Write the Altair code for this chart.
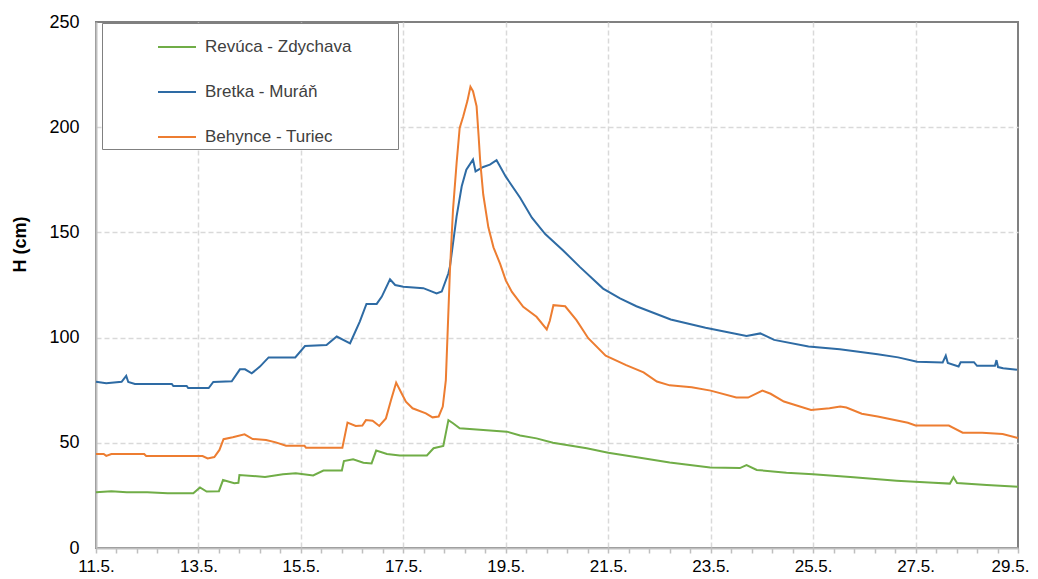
import altair as alt
import pandas as pd

# ---- data (day of May, water level in cm) ----
names = ["Revúca - Zdychava", "Bretka - Muráň", "Behynce - Turiec"]
colors = ["#70AD47", "#2E6BA4", "#ED7D31"]

green_x = [11.0, 11.3, 11.6, 12.0, 12.4, 12.9, 13.03, 13.16, 13.4, 13.48, 13.7, 13.78, 13.8, 14.3, 14.65,
           14.9, 15.24, 15.44, 15.8, 15.84, 16.02, 16.22, 16.38, 16.47, 16.68, 16.93, 17.46, 17.59, 17.78,
           17.88, 17.97, 18.1, 18.56, 19.02, 19.28, 19.6, 19.92, 20.58, 21.0, 21.56, 22.2, 22.99, 23.57,
           23.7, 23.9, 24.48, 25.0, 25.79, 26.63, 27.35, 27.67, 27.74, 27.81, 28.39, 29.0]
green_y = [26.5, 27, 26.5, 26.5, 26, 26, 28.8, 26.8, 27, 32.3, 30.8, 31, 34.7, 33.8, 35,
           35.5, 34.5, 36.8, 36.8, 41.3, 42.2, 40.5, 40.2, 46.3, 44.7, 44, 44, 47.4, 48.5,
           60.8, 59.3, 56.9, 56.1, 55.3, 53.5, 52.1, 50, 47.4, 45.3, 43.1, 40.6, 38.3, 38,
           39.4, 37.1, 35.8, 35, 33.6, 32, 31, 30.6, 33.6, 30.9, 29.9, 29.1]

blue_x = [11.0, 11.2, 11.5, 11.59, 11.63, 11.76, 12.48, 12.51, 12.77, 12.8, 13.2, 13.29, 13.65, 13.81,
          13.91, 14.04, 14.2, 14.37, 14.89, 15.08, 15.5, 15.7, 15.96, 16.15, 16.28, 16.48, 16.58, 16.74,
          16.84, 17.0, 17.39, 17.65, 17.75, 17.88, 17.91, 18.04, 18.14, 18.23, 18.36, 18.41, 18.56,
          18.69, 18.82, 18.87, 19.0, 19.28, 19.51, 19.77, 20.12, 20.45, 20.9, 21.23, 21.55, 22.22, 22.9,
          23.7, 23.97, 24.24, 24.91, 25.52, 26.26, 26.66, 27.03, 27.53, 27.59, 27.63, 27.84, 27.88,
          28.14, 28.2, 28.55, 28.58, 28.61, 28.71, 28.98]
blue_y = [79, 78.3, 79, 81.8, 78.9, 78, 78, 77, 77, 76, 76, 78.9, 79.2, 84.9,
          84.9, 83, 86.2, 90.6, 90.6, 96, 96.5, 100.5, 97.3, 107.6, 116, 116, 119.5, 127.7,
          125, 124.2, 123.5, 121, 121.9, 130.6, 133.8, 157.6, 171.9, 179.8, 184.6, 179, 181.1,
          182.2, 184.3, 182.2, 176.5, 166.5, 157, 149.2, 141.4, 133.5, 123.3, 118.6, 114.9, 108.6, 104.7,
          100.8, 102, 98.9, 95.8, 94.5, 92.1, 90.6, 88.5, 88.2, 91.4, 87.9, 86.3, 88.3,
          88.3, 86.6, 86.6, 89.3, 86, 85.4, 84.7]

orange_x = [11.0, 11.15, 11.2, 11.3, 11.94, 11.98, 13.08, 13.18, 13.31, 13.41, 13.49, 13.67, 13.9,
            14.06, 14.32, 14.51, 14.71, 15.07, 15.1, 15.81, 15.91, 16.07, 16.2, 16.27, 16.4, 16.53,
            16.66, 16.76, 16.86, 16.95, 17.05, 17.18, 17.44, 17.57, 17.69, 17.77, 17.83, 17.91,
            17.97, 18.04, 18.1, 18.17, 18.25, 18.31, 18.36, 18.43, 18.47, 18.5, 18.56, 18.66, 18.76,
            18.89, 19.0, 19.12, 19.34, 19.6, 19.8, 19.86, 19.93, 20.16, 20.38, 20.61, 20.95, 21.35,
            21.69, 21.95, 22.2, 22.63, 23.0, 23.5, 23.73, 24.01, 24.17, 24.43, 24.96, 25.32,
            25.53, 25.65, 25.95, 26.26, 26.85, 27.0, 27.65, 27.92, 28.3, 28.7, 29.0]
orange_y = [44.7, 44.7, 43.8, 44.7, 44.7, 43.7, 43.7, 42.6, 43.2, 46.6, 51.7, 52.6, 54,
            51.8, 51.3, 50.2, 48.6, 48.6, 47.7, 47.7, 59.6, 58, 58.2, 60.8, 60.5, 58,
            61.6, 70.3, 78.6, 74.3, 69.5, 66.4, 64, 62.1, 62.5, 67.2, 79.8, 132,
            160.8, 183, 199.7, 205.2, 212.4, 219.2, 217.1, 210, 195.7, 184, 168, 152.4, 142.9,
            135, 127.2, 121.7, 114.6, 109.9, 103.9, 108, 115.4, 114.9, 108.3, 99.7, 91.4, 86.9,
            83.5, 79.1, 77.3, 76.4, 74.8, 71.5, 71.5, 74.8, 73.3, 69.6, 65.6, 66.4,
            67.2, 66.8, 63.8, 62.5, 59.5, 58.2, 58.2, 54.8, 54.8, 54.2, 52.3]

x_ticks = [round(11 + 0.4 * i, 1) for i in range(46)]
y_ticks = [0, 50, 100, 150, 200, 250]

rows = []
for name, xs, ys in [(names[0], green_x, green_y), (names[1], blue_x, blue_y), (names[2], orange_x, orange_y)]:
    for i, (x, y) in enumerate(zip(xs, ys)):
        rows.append({"series": name, "day": x, "H": y, "i": i})
df = pd.DataFrame(rows)

FONT = "Liberation Sans"
is_major = "abs(datum.value - 11 - 2*round((datum.value - 11)/2)) < 0.01"
pad_label = "datum.label + '" + "\u00a0" * 9 + "\u200b'"

chart = alt.Chart(df).mark_line(strokeWidth=2).encode(
    x=alt.X("day:Q",
            scale=alt.Scale(domain=[11, 29], nice=False, zero=False),
            axis=alt.Axis(values=x_ticks, title=None,
                          labelExpr=is_major + " ? format(datum.value, 'd') + '.5.' : ''",
                          labelOverlap=False, labelFlush=False,
                          labelOffset={"condition": {"test": "datum.value > 28.9", "value": -8}, "value": 0},
                          labelFont=FONT, labelFontSize=17, labelColor="#000000", labelPadding=5,
                          grid=True, gridDash=[5, 3], gridColor="#d9d9d9", gridWidth=1.5,
                          gridOpacity={"condition": {"test": is_major + " && datum.value > 11.5 && datum.value < 28.5", "value": 1}, "value": 0},
                          ticks=True, tickSize=5, tickColor="#bfbfbf", tickWidth=1.5,
                          domainColor="#bfbfbf", domainWidth=2)),
    y=alt.Y("H:Q",
            scale=alt.Scale(domain=[0, 250], nice=False),
            axis=alt.Axis(values=y_ticks, title="H (cm)",
                          titleFont=FONT, titleFontSize=18, titleFontWeight="bold", titleColor="#000000",
                          titleX=-76, titleY=222, titleAngle=270, titleAlign="center", titleBaseline="middle",
                          labelFont=FONT, labelFontSize=18, labelColor="#000000", labelPadding=17,
                          ticks=False, tickSize=0,
                          grid=True, gridDash=[5, 3], gridColor="#d9d9d9", gridWidth=1.5,
                          gridOpacity={"condition": {"test": "datum.value > 0 && datum.value < 250", "value": 1}, "value": 0},
                          domainColor="#bfbfbf", domainWidth=2)),
    color=alt.Color("series:N",
                    scale=alt.Scale(domain=names, range=colors),
                    legend=alt.Legend(title=None, orient="none", legendX=6, legendY=1,
                                      symbolType="stroke", symbolSize=1444, symbolStrokeWidth=2,
                                      symbolOffset=51, labelOffset=8, rowPadding=17, padding=4,
                                      labelFont=FONT, labelFontSize=17, labelColor="#404040",
                                      labelLimit=400, labelExpr=pad_label,
                                      strokeColor="#808080", fillColor="#ffffff")),
    order=alt.Order("i:Q"),
).properties(
    width=922, height=526,
    padding={"left": 88, "top": 14, "right": 12, "bottom": 31},
    autosize=alt.AutoSizeParams(type="none"),
).configure_view(stroke="#808080", strokeWidth=2)

chart.save("out.html", embed_options={"renderer": "svg", "actions": False})
